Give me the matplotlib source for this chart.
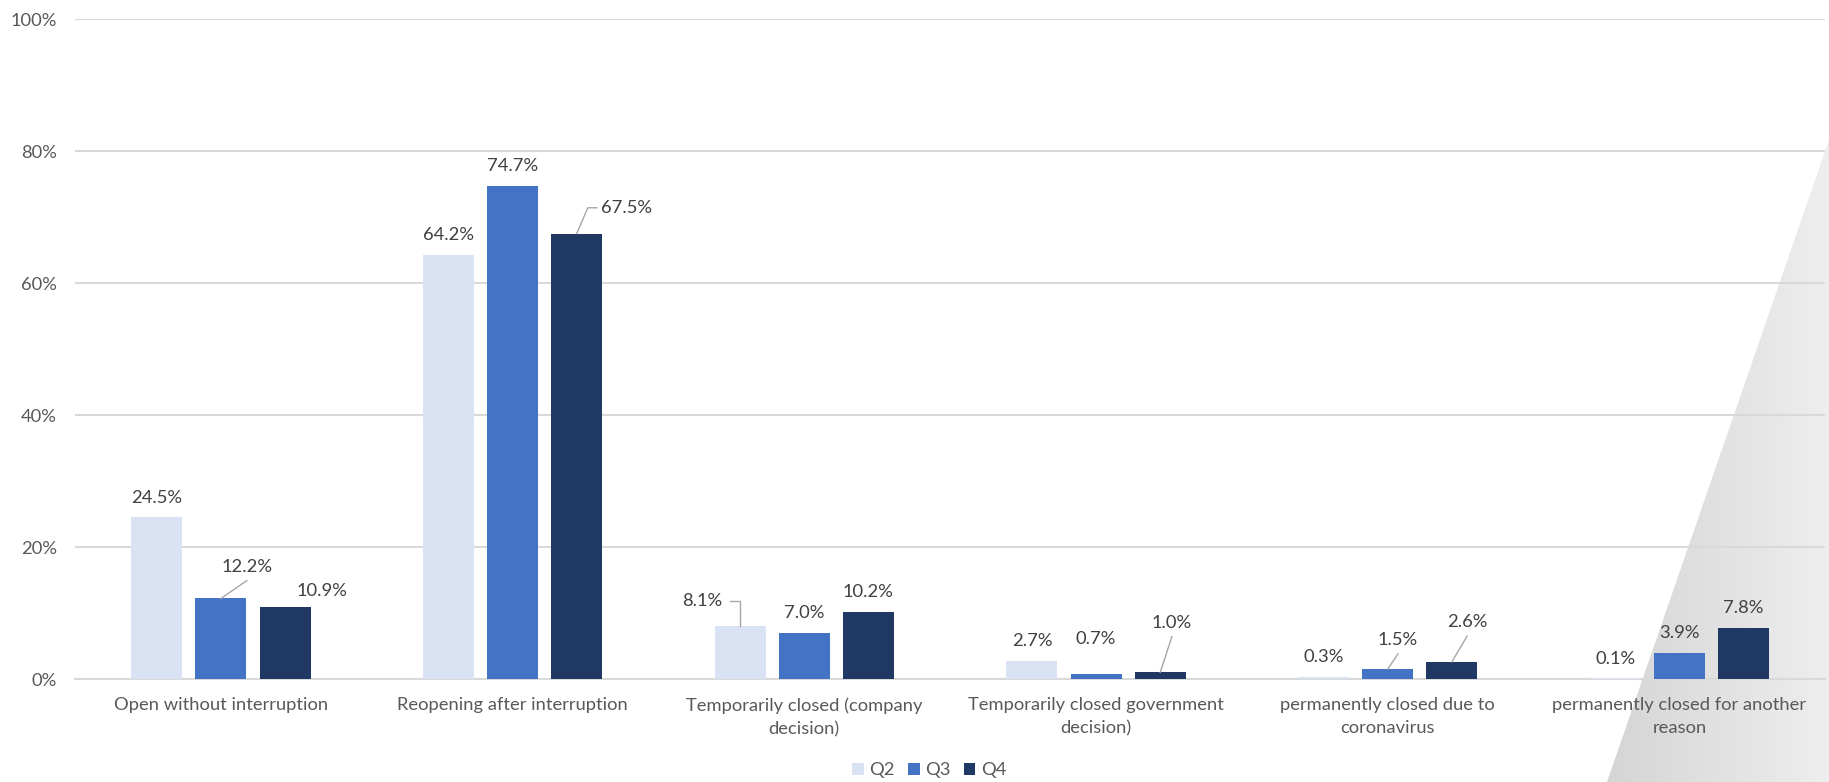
import numpy as np
import matplotlib
matplotlib.use("Agg")
from matplotlib import pyplot as plt
from matplotlib.colors import LinearSegmentedColormap
from matplotlib.patches import Polygon

plt.rcParams["font.family"] = ["Lato", "DejaVu Sans"]

categories = [
    "Open without interruption",
    "Reopening after interruption",
    "Temporarily closed (company\ndecision)",
    "Temporarily closed government\ndecision)",
    "permanently closed due to\ncoronavirus",
    "permanently closed for another\nreason",
]
quarters = ["Q2", "Q3", "Q4"]
q2 = [24.5, 64.2, 8.1, 2.7, 0.3, 0.1]
q3 = [12.2, 74.7, 7.0, 0.7, 1.5, 3.9]
q4 = [10.9, 67.5, 10.2, 1.0, 2.6, 7.8]
y_ticks = [0, 20, 40, 60, 80, 100]

colors = ["#dae3f3", "#4472c4", "#203864"]
text_color = "#595959"
grid_color = "#d9d9d9"
leader_color = "#a6a6a6"
fs = 13.2

# labels moved off their bars: (series, category) -> (x offset, label y, leader)
moved = {
    (1, 0): (0.089, 17.0, "line"),
    (2, 0): (0.127, 13.3, None),
    (2, 1): (0.172, 71.4, "elbow"),
    (0, 2): (-0.130, 11.8, "bracket"),
    (1, 3): (0.0, 6.0, None),
    (2, 3): (0.040, 8.5, "line"),
    (1, 4): (0.035, 5.9, "line"),
    (2, 4): (0.052, 8.6, "line"),
}

fig = plt.figure(figsize=(18.29, 7.82), dpi=100)

# shaded wedge in the lower right corner
bg = fig.add_axes([0, 0, 1, 1], zorder=0)
cmap = LinearSegmentedColormap.from_list("wedge", ["#d5d5d5", "#eeeeee"])
im = bg.imshow(np.linspace(0, 1, 256).reshape(1, -1), cmap=cmap,
               extent=[1607, 1829, 782, 140], aspect="auto")
wedge = Polygon([(1829, 140), (1607, 782), (1829, 782)], closed=True,
                transform=bg.transData)
im.set_clip_path(wedge)
bg.set_xlim(0, 1829)
bg.set_ylim(782, 0)
bg.axis("off")

ax = fig.add_axes([0.041, 0.1317, 0.957, 0.844], zorder=1)
ax.patch.set_alpha(0)

x = np.arange(len(categories))
step = 0.22
width = 0.175
series = [q2, q3, q4]
for i, (vals, c, q) in enumerate(zip(series, colors, quarters)):
    xs = x + (i - 1) * step
    ax.bar(xs, vals, width, color=c, label=q, zorder=3)
    for j, v in enumerate(vals):
        bx = xs[j]
        if (i, j) in moved:
            dx, ly, leader = moved[(i, j)]
        else:
            dx, ly, leader = 0.0, v + 3.0, None
        lx = bx + dx
        ax.text(lx, ly, f"{v:.1f}%", ha="center", va="center",
                fontsize=fs, color="#404040", zorder=4)
        if leader == "line":
            ax.plot([lx, bx], [ly - 2.1, v], color=leader_color, lw=1, zorder=4)
        elif leader == "elbow":
            ax.plot([lx - 0.103, lx - 0.134, bx], [ly, ly, v],
                    color=leader_color, lw=1, zorder=4)
        elif leader == "bracket":
            ax.plot([lx + 0.097, bx, bx], [ly, ly, v],
                    color=leader_color, lw=1, zorder=4)

ax.set_xlim(-0.5, len(categories) - 0.5)
ax.set_ylim(0, 100)
ax.set_yticks(y_ticks)
ax.set_yticklabels([f"{t}%" for t in y_ticks])
ax.set_xticks(x)
ax.set_xticklabels(categories, linespacing=1.55)
ax.tick_params(axis="both", length=0, labelsize=fs, labelcolor=text_color)
ax.tick_params(axis="y", pad=13)
ax.tick_params(axis="x", pad=13)
ax.grid(axis="y", color=grid_color, lw=1.5, zorder=0)
for side in ["top", "right", "left"]:
    ax.spines[side].set_visible(False)
ax.spines["bottom"].set_color(grid_color)
ax.spines["bottom"].set_linewidth(1.5)

ax.legend(loc="center", bbox_to_anchor=(0.488, -0.138), ncol=3, frameon=False,
          fontsize=fs, labelcolor=text_color, handlelength=0.65,
          handleheight=0.65, handletextpad=0.3, columnspacing=0.7)

fig.savefig("out.png", dpi=100)
